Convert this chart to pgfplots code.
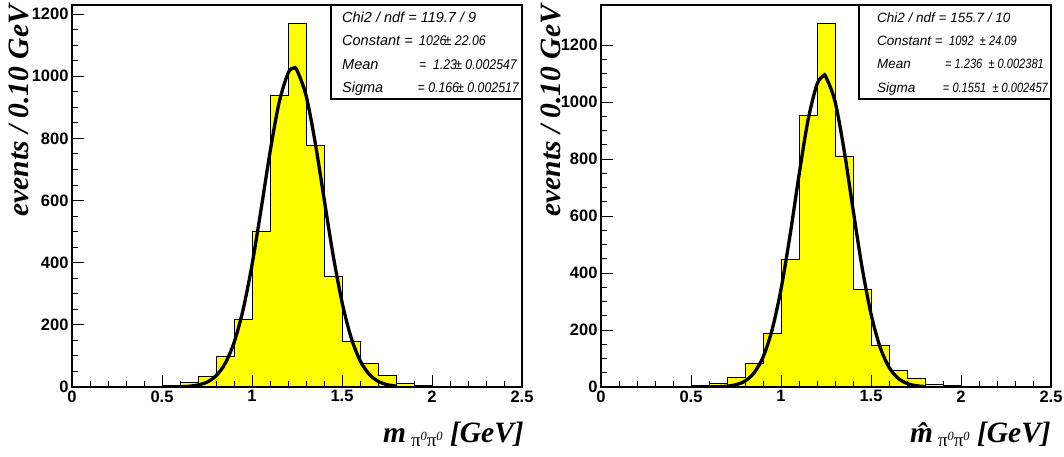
\documentclass[border=0pt]{standalone}
\usepackage{pgfplots}
\pgfplotsset{compat=1.18}
\usepackage{fontspec}
\setmainfont{Liberation Sans}
\newfontfamily\tnr{Liberation Serif}
\definecolor{histyellow}{rgb}{1,1,0}

\pgfplotsset{
  rootstyle/.style={
    scale only axis, width=450pt, height=382pt, anchor=south west,
    xmin=0, xmax=2.5, ymin=0,
    xtick={0,0.5,1,1.5,2,2.5},
    xticklabels={0,0.5,1,1.5,2,2.5},
    ytick={0,200,400,600,800,1000,1200},
    yticklabels={0,200,400,600,800,1000,1200},
    minor x tick num=4, minor y tick num=3,
    tick align=inside, tick pos=left,
    major tick length=12pt, minor tick length=5.5pt,
    axis line style={line width=1.1pt},
    every tick/.style={black, line width=0.9pt},
    tick label style={font=\fontsize{16.5}{16.5}\selectfont\bfseries},
    /pgf/number format/assume math mode=true,
    axis on top,
  }
}

\begin{document}
\begin{tikzpicture}
% ---------------- left panel ----------------
\begin{axis}[rootstyle, at={(72pt,70pt)}, ymax=1229]
\addplot[const plot mark left, fill=histyellow, draw=black, line width=0.9pt] coordinates {
(0.5,4) (0.6,16) (0.7,33) (0.8,97) (0.9,217) (1.0,502) (1.1,937) (1.2,1171)
(1.3,778) (1.4,357) (1.5,148) (1.6,76) (1.7,38) (1.8,11) (1.9,4) (2.0,4)} \closedcycle;
\addplot[smooth, black, line width=3.3pt] coordinates {
(0.60,0.8) (0.65,2.3) (0.70,6.3) (0.75,15.7) (0.80,35.8) (0.85,74.7) (0.90,142.2)
(0.95,247.4) (1.00,392.8) (1.05,570.0) (1.10,755.0) (1.15,913.5) (1.20,1009.4)
(1.23,1026) (1.25,1018.6) (1.30,938.7) (1.35,790.0) (1.40,607.3) (1.45,426.3)
(1.50,273.3) (1.55,160.1) (1.60,85.6) (1.65,41.8) (1.70,18.6) (1.75,7.6) (1.80,2.8)};
\end{axis}

% ---------------- right panel ----------------
\begin{axis}[rootstyle, at={(601pt,70pt)}, ymax=1341]
\addplot[const plot mark left, fill=histyellow, draw=black, line width=0.9pt] coordinates {
(0.5,4) (0.6,13) (0.7,32) (0.8,81) (0.9,187) (1.0,449) (1.1,952) (1.2,1276)
(1.3,809) (1.4,342) (1.5,147) (1.6,58) (1.7,29) (1.8,9) (1.9,5) (2.0,5)} \closedcycle;
\addplot[smooth, black, line width=3.3pt] coordinates {
(0.60,0.2) (0.65,0.9) (0.70,2.8) (0.75,8.1) (0.80,21.0) (0.85,49.3) (0.90,104.5)
(0.95,199.5) (1.00,343.1) (1.05,532.0) (1.10,743.5) (1.15,936.4) (1.20,1063.0)
(1.236,1092) (1.25,1087.6) (1.30,1002.9) (1.35,833.5) (1.40,624.4) (1.45,421.5)
(1.50,256.5) (1.55,140.7) (1.60,69.5) (1.65,31.0) (1.70,12.4) (1.75,4.5) (1.80,1.5)};
\end{axis}

% ---------------- axis titles ----------------
\tikzset{ytit/.style={rotate=90, anchor=base east, inner sep=0pt,
  font=\tnr\bfseries\itshape\fontsize{29.5}{30}\selectfont}}
\tikzset{xtit/.style={anchor=base east, inner sep=0pt,
  font=\tnr\bfseries\itshape\fontsize{29.5}{30}\selectfont}}
\node[ytit] at (28pt,452pt) {events / 0.10 GeV};
\node[ytit] at (560pt,452pt) {events / 0.10 GeV};
\newcommand{\pisub}{\raisebox{-4pt}{\upshape\mdseries\fontsize{19}{19}\selectfont π\raisebox{6.5pt}{\itshape\fontsize{12.5}{12.5}\selectfont 0}π\raisebox{6.5pt}{\itshape\fontsize{12.5}{12.5}\selectfont 0}}}
\node[xtit] at (524pt,14pt) {m\,\pisub\ [GeV]};
\node[xtit] at (1051pt,14pt) {\^{m}\,\pisub\ [GeV]};

% ---------------- stat boxes ----------------
\draw[line width=1.1pt, fill=white] (331pt,358pt) rectangle (522pt,452pt);
\draw[line width=1.1pt, fill=white] (859pt,358pt) rectangle (1051pt,452pt);
\tikzset{
  sl/.style={anchor=base west, inner sep=0pt, font=\itshape\fontsize{14.5}{14.5}\selectfont},
  svw/.style={anchor=base west, inner sep=0pt, xscale=0.88, font=\itshape\fontsize{14}{14}\selectfont},
  sve/.style={anchor=base east, inner sep=0pt, xscale=0.88, font=\itshape\fontsize{14}{14}\selectfont},
  rl/.style={anchor=base west, inner sep=0pt, font=\itshape\fontsize{13.5}{13.5}\selectfont},
  rvw/.style={anchor=base west, inner sep=0pt, xscale=0.82, font=\itshape\fontsize{13.5}{13.5}\selectfont},
  rve/.style={anchor=base east, inner sep=0pt, xscale=0.82, font=\itshape\fontsize{13.5}{13.5}\selectfont}}
% left
\node[sl] at (342pt,434pt) {Chi2 / ndf = 119.7 / 9};
\node[sl] at (342pt,411pt) {Constant =};
\node[svw] at (419pt,411pt) {1026\kern-0.15em± 22.06};
\node[sl] at (342pt,387pt) {Mean};
\node[sve] at (517pt,387pt) {=\ \ 1.23\kern-0.15em± 0.002547};
\node[sl] at (342pt,364pt) {Sigma};
\node[sve] at (519pt,364pt) {= 0.166\kern-0.15em± 0.002517};
% right
\node[rl] at (877pt,434pt) {Chi2 / ndf = 155.7 / 10};
\node[rl] at (877pt,411pt) {Constant =};
\node[rvw] at (949pt,411pt) {1092\ \ ± 24.09};
\node[rl] at (877pt,388pt) {Mean};
\node[rve] at (1044pt,388pt) {= 1.236\ \ ± 0.002381};
\node[rl] at (877pt,364pt) {Sigma};
\node[rve] at (1048pt,364pt) {= 0.1551\ \ ± 0.002457};

\pgfresetboundingbox
\path[use as bounding box] (0pt,0pt) rectangle (1064pt,457pt);
\end{tikzpicture}
\end{document}
